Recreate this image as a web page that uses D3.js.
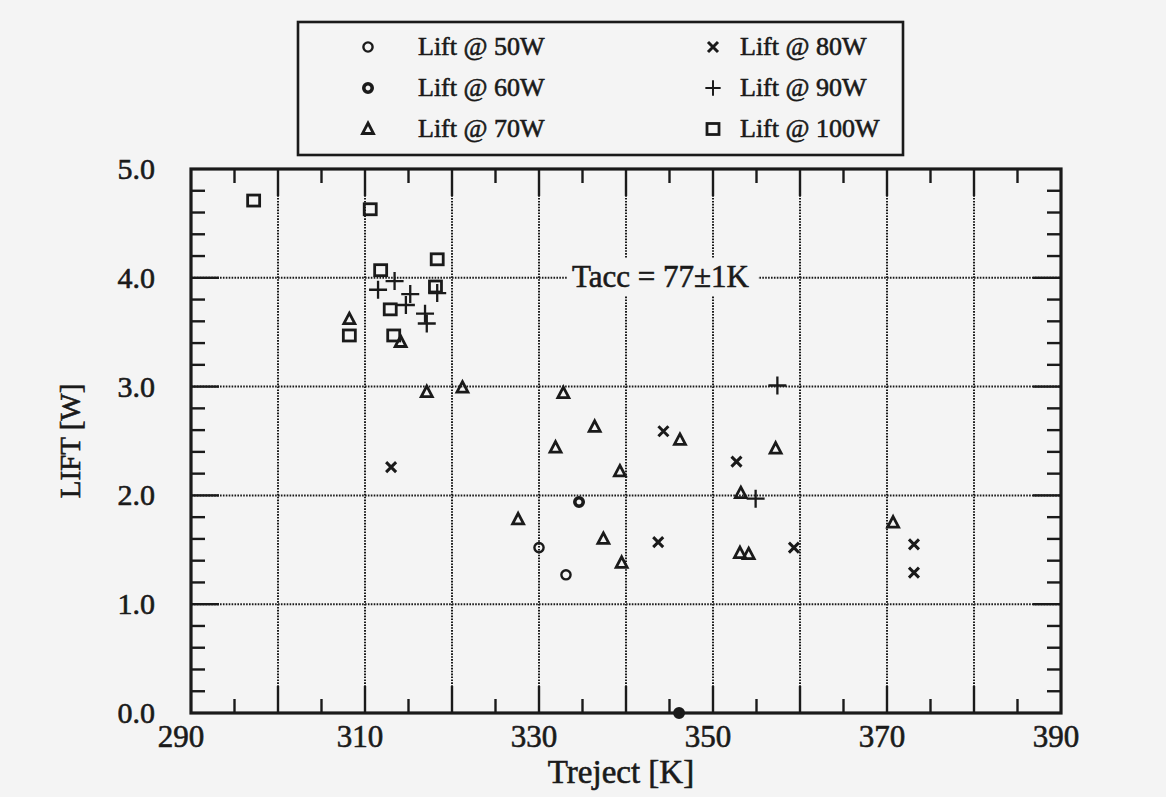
<!DOCTYPE html>
<html>
<head>
<meta charset="utf-8">
<script src="https://cdn.jsdelivr.net/npm/d3@7"></script>
<style>
  html,body{margin:0;padding:0;background:#f4f4f4;}
  svg{display:block;}
  text{font-family:"Liberation Serif","Times New Roman",serif;fill:#1a1a1a;stroke:#1a1a1a;stroke-width:0.6px;}
</style>
</head>
<body>
<svg id="chart" width="1166" height="797"></svg>
<script>
// ---- data --------------------------------------------------------------
const SERIES_NAMES = ['Lift @ 50W','Lift @ 60W','Lift @ 70W','Lift @ 80W','Lift @ 90W','Lift @ 100W'];
const SERIES_KEYS  = ['w50','w60','w70','w80','w90','w100'];

const w50_x  = [330.0, 333.1];
const w50_y  = [1.52, 1.27];

const w60_x  = [334.6, 346.1];
const w60_y  = [1.94, 0.0];

const w70_x  = [308.2, 314.1, 317.1, 321.2, 327.6, 331.9, 332.8, 336.4, 337.4, 339.3, 339.5, 346.2, 353.1, 354.1, 353.2, 357.2, 370.7];
const w70_y  = [3.62, 3.41, 2.95, 2.99, 1.78, 2.44, 2.94, 2.63, 1.60, 2.22, 1.38, 2.51, 1.47, 1.46, 2.02, 2.43, 1.75];

const w80_x  = [313.0, 343.7, 344.3, 352.7, 359.3, 373.1, 373.1];
const w80_y  = [2.26, 1.57, 2.59, 2.31, 1.52, 1.55, 1.29];

const w90_x  = [311.5, 313.4, 315.2, 314.7, 316.9, 317.1, 318.3, 357.4, 354.9];
const w90_y  = [3.89, 3.97, 3.85, 3.75, 3.67, 3.58, 3.86, 3.01, 1.97];

const w100_x = [297.2, 310.6, 308.2, 311.8, 318.3, 318.1, 312.9, 313.3];
const w100_y = [4.71, 4.63, 3.47, 4.07, 4.17, 3.92, 3.71, 3.47];

const X_TICKS = [290, 310, 330, 350, 370, 390];
const Y_TICKS = [0, 1, 2, 3, 4, 5];
const ANNOTATION = 'Tacc = 77\u00b11K';

// ---- layout ---------------------------------------------------------------
const INK = '#1a1a1a', BG = '#f4f4f4';
const L = 191, R = 1061, T = 169, B = 713;

const svg = d3.select('#chart');
const x = d3.scaleLinear().domain([290, 390]).range([L, R]);
const y = d3.scaleLinear().domain([0, 5]).range([B, T]);

// grid (dotted)
const grid = svg.append('g');
grid.selectAll('line.gx').data(d3.range(300, 390, 10)).join('line')
  .attr('x1', d => x(d)).attr('x2', d => x(d)).attr('y1', T).attr('y2', B)
  .attr('stroke', INK).attr('stroke-width', 2).attr('stroke-dasharray', '1.6,1.3');
grid.selectAll('line.gy').data(d3.range(1, 5)).join('line')
  .attr('x1', L).attr('x2', R).attr('y1', d => y(d)).attr('y2', d => y(d))
  .attr('stroke', INK).attr('stroke-width', 2).attr('stroke-dasharray', '1.6,1.3');

// annotation with a background patch over the grid
const ann = svg.append('g');
ann.append('rect').attr('x', 567).attr('y', 258).attr('width', 191).attr('height', 38).attr('fill', BG);
ann.append('text').attr('x', 572).attr('y', 287).attr('font-size', 31).text(ANNOTATION);

// ticks inward on all sides
const ticks = svg.append('g').attr('stroke', INK).attr('stroke-width', 2.4);
const xMajor = d3.range(300, 390, 10), xMinor = d3.range(295, 390, 10);
const yMajor = d3.range(1, 5), yMinor = d3.range(0.2, 5, 0.2).filter(v => Math.abs(v - Math.round(v)) > 0.01);
function tickX(vals, len){
  ticks.append('g').selectAll('line').data(vals).join('line')
    .attr('x1', d => x(d)).attr('x2', d => x(d)).attr('y1', B).attr('y2', B - len);
  ticks.append('g').selectAll('line').data(vals).join('line')
    .attr('x1', d => x(d)).attr('x2', d => x(d)).attr('y1', T).attr('y2', T + len);
}
function tickY(vals, len){
  ticks.append('g').selectAll('line').data(vals).join('line')
    .attr('y1', d => y(d)).attr('y2', d => y(d)).attr('x1', L).attr('x2', L + len);
  ticks.append('g').selectAll('line').data(vals).join('line')
    .attr('y1', d => y(d)).attr('y2', d => y(d)).attr('x1', R).attr('x2', R - len);
}
tickX(xMajor, 27); tickX(xMinor, 14);
tickY(yMajor, 28); tickY(yMinor, 14);

// frame
svg.append('rect').attr('x', L).attr('y', T).attr('width', R - L).attr('height', B - T)
  .attr('fill', 'none').attr('stroke', INK).attr('stroke-width', 3.2);

// tick labels
svg.append('g').selectAll('text').data(X_TICKS).join('text')
  .attr('x', d => x(d) - (d === 290 ? 10 : 5)).attr('y', 747)
  .attr('text-anchor', 'middle').attr('font-size', 31).text(d => d);
svg.append('g').selectAll('text').data(Y_TICKS).join('text')
  .attr('x', 155).attr('y', d => y(d) + 10)
  .attr('text-anchor', 'end').attr('font-size', 30).text(d => d.toFixed(1));

// axis titles
svg.append('text').attr('x', 621).attr('y', 783).attr('text-anchor', 'middle')
  .attr('font-size', 33).text('Treject [K]');
svg.append('text').attr('transform', 'translate(80,441) rotate(-90)').attr('text-anchor', 'middle')
  .attr('font-size', 29).text('LIFT [W]');

// ---- marker shapes ------------------------------------------------------
function marker(g, key){
  g.attr('fill', 'none').attr('stroke', INK);
  if (key === 'w50') g.append('circle').attr('r', 4.6).attr('stroke-width', 2.4);
  if (key === 'w60') g.append('circle').attr('r', 4.2).attr('stroke-width', 3.6);
  if (key === 'w70') g.append('path').attr('d', 'M0,-6L5.5,4.5L-5.5,4.5Z').attr('stroke-width', 2.8);
  if (key === 'w80') g.append('path').attr('d', 'M-5,-5L5,5M-5,5L5,-5').attr('stroke-width', 3);
  if (key === 'w90') g.append('path').attr('d', 'M-9,0L9,0M0,-9L0,9').attr('stroke-width', 2.3);
  if (key === 'w100') g.append('rect').attr('x', -6).attr('y', -5.5).attr('width', 12).attr('height', 11).attr('stroke-width', 2.8);
}

const seriesData = {
  w50:  w50_x.map((v, i) => [v, w50_y[i]]),
  w60:  w60_x.map((v, i) => [v, w60_y[i]]),
  w70:  w70_x.map((v, i) => [v, w70_y[i]]),
  w80:  w80_x.map((v, i) => [v, w80_y[i]]),
  w90:  w90_x.map((v, i) => [v, w90_y[i]]),
  w100: w100_x.map((v, i) => [v, w100_y[i]])
};

const pts = svg.append('g');
SERIES_KEYS.forEach(k => {
  pts.append('g').selectAll('g').data(seriesData[k]).join('g')
    .attr('transform', d => `translate(${x(d[0])},${y(d[1])})`)
    .each(function(d){
      marker(d3.select(this), k);
      // the zero-lift point sits on the axis and prints as a solid dot
      if (d[1] === 0) d3.select(this).select('circle').attr('fill', INK);
    });
});

// ---- legend -------------------------------------------------------------
const lg = svg.append('g');
lg.append('rect').attr('x', 298).attr('y', 22).attr('width', 605).attr('height', 133)
  .attr('fill', BG).attr('stroke', INK).attr('stroke-width', 2.6);
const rowsY = [47, 88, 129];
SERIES_KEYS.forEach((k, i) => {
  const col = Math.floor(i / 3), row = i % 3;
  const sx = col ? 713 : 368, tx = col ? 740 : 418;
  const m = lg.append('g').attr('transform', `translate(${sx},${rowsY[row]})`);
  marker(m, k);
  if (k === 'w90') m.attr('transform', `translate(${sx},${rowsY[row]}) scale(0.85)`);
  lg.append('text').attr('x', tx).attr('y', rowsY[row] + 8).attr('font-size', 26).text(SERIES_NAMES[i]);
});
</script>
</body>
</html>
